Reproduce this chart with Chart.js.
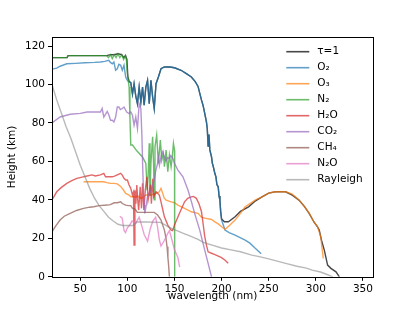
<!DOCTYPE html>
<html>
<head>
<meta charset="utf-8">
<script src="https://cdn.jsdelivr.net/npm/chart.js@4.4.0/dist/chart.umd.min.js"></script>
<style>
  body { margin: 0; background: #fff; }
  canvas { display: block; }
</style>
</head>
<body>
<canvas id="chart" width="415" height="311"></canvas>
<script>
// tick labels
const xTicks = [50, 100, 150, 200, 250, 300, 350];
const yTicks = [0, 20, 40, 60, 80, 100, 120];

// series: [wavelength nm, height km]
const tau1 = [[20,114],[36,114],[37,115],[78,115],[82,115.5],[86,115.5],[90,116],[94,115.5],[96,114],[98,115],[99.5,113],[100.5,104],[102,101.5],[103.6,101],[105.4,95],[107.1,100.4],[108.9,94],[110.7,90],[112.5,98.7],[114.3,90.9],[116.1,98.7],[117.8,89.2],[119.6,98.7],[121.4,102.2],[123.2,90],[125,102.2],[126.8,93.5],[128.5,87.5],[130.4,100.4],[133,104],[135.7,108.2],[139.3,109.1],[145,109.1],[150,108.7],[157,107.4],[163,105.5],[167.9,103.9],[172,101.5],[175,99],[178.6,92],[180.4,89],[182.1,85],[183.9,80.6],[184.8,77],[185.7,68],[186.6,74],[187.5,66],[189.3,62.4],[190.2,59],[191.1,57.5],[192.8,53.8],[194,52],[195,48],[196.4,46.8],[197.3,42],[198.2,39.9],[199,34],[200,30],[203,28.6],[207.2,28.6],[214.3,31.2],[220,34],[228.6,36.4],[236,39.5],[242.9,41.6],[250,43.5],[257.1,44.2],[267.9,44.2],[275,42.5],[282.1,39.9],[288,36.5],[292.9,33],[298,28.5],[301.8,26],[303.6,24.3],[306,19],[309,13.9],[312.5,6.1],[316,4.4],[321.4,2.6],[325,0]];
const o2 = [[20,108],[25,108.5],[28.6,109.5],[35.7,110.8],[45,111],[55,111.3],[65,111.5],[71.4,111.7],[76,112],[80.3,112.6],[82,111.5],[84,110.8],[85.7,111.7],[87.5,107.4],[89.3,108.2],[91,110.5],[92.9,110],[94.6,107.4],[96.4,110],[98.2,103.9],[100,102.2],[101.7,101.3],[103.6,101],[105.4,95],[107.1,100.4],[108.9,94],[110.7,90],[112.5,98.7],[114.3,90.9],[116.1,98.7],[117.8,89.2],[119.6,98.7],[121.4,102.2],[123.2,90],[125,102.2],[126.8,93.5],[128.5,87.5],[130.4,100.4],[133,104],[135.7,108.2],[139.3,109.1],[145,109.1],[150,108.7],[157,107.4],[163,105.5],[167.9,103.9],[172,101.5],[175,99],[178.6,92],[180.4,89],[182.1,85],[183.9,80.6],[184.8,77],[185.7,68],[186.6,74],[187.5,66],[189.3,62.4],[190.2,59],[191.1,57.5],[192.8,53.8],[194,52],[195,48],[196.4,46.8],[197.3,42],[198.2,39.9],[199,34],[200,29.5],[203.6,24.3],[208,23],[214.3,21.7],[225,19.1],[230,17.5],[235.7,14.8],[242,12]];
const o3 = [[53.5,49.4],[60,49.4],[70,49.4],[75,49.4],[78,49],[82,48.6],[86,48.6],[89.3,48.3],[92.9,47],[96,45],[98.2,43.4],[101.8,42.5],[103.6,41.6],[108.9,41.6],[111,42],[114.3,40.8],[117,41.5],[119.6,42.5],[125,42.5],[130.4,43.4],[133.9,44.2],[135.7,46],[137.5,43.4],[139,41],[141.1,39.9],[146.4,39],[150,38.5],[153.6,37.3],[160.7,35.6],[167.9,33.8],[175,33],[178.6,31],[182.1,30.5],[189.3,29.8],[192.9,28.6],[196.4,27.5],[200,26],[203.6,24.7],[208,26.5],[214.3,29.5],[220,33],[225,36.4],[236,40],[243,41.6],[250,43.5],[257,44.2],[268,44.2],[275,43],[282,40],[288,36.5],[293,33],[298,28.5],[301.8,26],[305.3,20.8],[306.4,15.6],[307.9,9.6]];
const n2 = [[20,114],[36,114],[37,115],[78,115],[80,114],[82,115.5],[84,113.5],[86,115.5],[88,114],[90,116],[92,114],[94,115.5],[96,113],[98,115],[99,112.5],[100,105.6],[101.8,98.7],[102.7,83],[103.6,68.5],[105.4,68.5],[110,65.5],[116,62.3],[117.8,60.7],[119.6,59],[121,45],[122,52],[123.2,69.4],[124,42],[125,59],[126.8,72.8],[127.9,57.2],[128.5,40],[129.3,67.6],[131.1,73.7],[132.9,59],[135,71.1],[136.5,60.7],[138.2,64.2],[139.3,57.2],[141.1,65.9],[142.9,54.6],[144.6,63.3],[146.4,57.2],[147.5,61.6],[148.9,69.4],[150,65.9],[150.2,0]];
const h2o = [[20,40],[25,44.2],[30,46.5],[35.7,48.6],[41,50],[46.4,51.2],[52,51.8],[57.2,52.4],[62.5,53],[66,52.4],[71.4,53],[75,53.8],[76.8,52],[80,52],[84,52],[87,52.5],[89.3,53],[92.9,53.8],[94.6,52.9],[96.4,51.2],[98.2,50.3],[100,50.3],[101.8,47.7],[103.6,46],[105.4,42.5],[106.5,44],[107.1,16.5],[108,45],[109,38],[110,47.7],[111,40],[112,34.7],[113.6,46.8],[115,35.6],[116.1,48.6],[117.5,34.7],[119,45],[120.7,52],[122,40],[123.2,43.4],[124.5,48],[125.5,38],[126.8,51],[128,41.6],[130.4,44.2],[133.9,42.5],[135.7,39],[137.5,35],[139.3,31.2],[142.9,26.9],[146.4,24.3],[148,24],[150,26.9],[155.3,33],[160.7,39],[164,40.8],[167.9,41.6],[170,41.8],[173.2,40.8],[176,38],[178.6,34],[180,29],[182.1,21],[183.9,16.5],[185.7,13],[188,12.5],[192.9,11.5],[200,10],[204,8.5],[207,7]];
const co2 = [[20,80],[28.6,83.1],[39.3,84.5],[50,85],[57.2,85.7],[65,85.7],[71.4,85.7],[73.2,87.5],[75,83.1],[78.6,86],[80.5,84],[82.1,81.4],[84,81.4],[85.7,80.5],[87.5,83.1],[89.3,88.3],[91,88.3],[92.5,87],[94.6,87.5],[96.4,88.3],[99.3,85.7],[101.8,84.9],[103.6,85.7],[105.4,84],[107.1,78.9],[108.9,83.1],[110.7,77.1],[112.5,90],[114.3,87.5],[115.5,72],[116.1,60],[117,45],[117.8,37.3],[118.5,33],[119.6,36],[121.4,41.6],[125,45],[127,48],[128.5,50.3],[130,55],[132.1,59],[133,62],[134,58],[135.7,62.4],[137,65],[139.3,62.4],[141,60],[142.5,62],[144.6,61.6],[146,63],[148.2,61.6],[150,59],[153.6,55.5],[159,52],[164.3,45.1],[168,39],[171.4,33],[176.8,24.3],[182.1,13.9],[185.7,7],[189.3,0]];
const ch4 = [[20,23.4],[24,26.5],[28.6,29.5],[33,31.5],[39.3,33],[46,34.5],[53.5,35.6],[60,36.2],[64.3,36.4],[70,37],[78.6,37.3],[82,37.5],[86,38.5],[89.3,38.5],[92.9,39],[94.6,38.1],[98.2,37.3],[101,37],[103.6,37],[105.4,35.6],[107,35.5],[108.9,34.7],[110.5,33.5],[112.5,33.5],[120,33.5],[128.5,33.5],[132.1,32.1],[135.7,29.5],[139.3,24.3],[141,20],[142.1,15.6],[143,10],[143.6,6.9],[144.6,0]];
const n2o = [[92,31.5],[94.5,30.5],[96.5,24],[98,23],[100,25.5],[102,26.5],[105,29],[109,28],[112.5,31],[115,27],[117.8,22],[121.4,18.5],[124.3,25],[127,29],[130,31],[132,26],[134,19],[135.7,16],[139.3,19],[142.9,22.6],[144.6,24],[146.4,20.8],[150,14],[153.6,10],[155.5,5]];
const rayleigh = [[20,100],[25,92],[30,85],[35,78],[40,72],[45,65],[50,58],[55,52],[60,46],[65,41],[70,37],[75,34],[80,31],[85,29],[90,27.3],[95,26.7],[100,26.7],[106,26.7],[108,27.5],[110,28.5],[120,28.5],[135,28.3],[140,27],[145,25.5],[150,24.5],[155,23.5],[160,22.5],[165,21.5],[170,20.5],[175,19.5],[180,18],[185,17.2],[190,16.5],[200,15],[210,14],[220,13],[232,11.3],[240,10.5],[250,9.3],[260,8],[268,7],[280,5.5],[290,4.5],[296,3.5],[305,2.5],[312,1.2],[318,0]];

const labels = ['τ=1', 'O₂', 'O₃', 'N₂', 'H₂O', 'CO₂', 'CH₄', 'N₂O', 'Rayleigh'];
const series = [tau1, o2, o3, n2, h2o, co2, ch4, n2o, rayleigh];
const colors = ['rgba(0,0,0,0.72)', 'rgba(31,119,180,0.7)', 'rgba(255,127,14,0.7)', 'rgba(44,160,44,0.7)',
                'rgba(214,39,40,0.7)', 'rgba(148,103,189,0.7)', 'rgba(140,86,75,0.7)', 'rgba(227,119,194,0.7)',
                'rgba(127,127,127,0.55)'];

Chart.defaults.font.family = '"DejaVu Sans", sans-serif';
Chart.defaults.font.size = 10.5;
Chart.defaults.color = '#000';

// legend drawn inside the axes, upper right, like matplotlib
const insideLegend = {
    id: 'insideLegend',
    afterDraw(chart) {
        const {ctx, chartArea} = chart;
        ctx.save();
        ctx.font = '10.5px "DejaVu Sans"';
        ctx.textBaseline = 'middle';
        chart.data.datasets.forEach((ds, i) => {
            const y = chartArea.top + 14.7 + i * 16;
            const x0 = chartArea.right - 87;
            ctx.strokeStyle = ds.borderColor;
            ctx.lineWidth = 1.6;
            ctx.beginPath();
            ctx.moveTo(x0, y);
            ctx.lineTo(x0 + 23, y);
            ctx.stroke();
            ctx.fillStyle = '#000';
            ctx.fillText(ds.label, x0 + 31, y);
        });
        ctx.restore();
    }
};

// full box around the plot
const frame = {
    id: 'frame',
    afterDraw(chart) {
        const {ctx, chartArea: a} = chart;
        ctx.save();
        ctx.strokeStyle = '#000';
        ctx.lineWidth = 1;
        ctx.strokeRect(Math.round(a.left) + 0.5, Math.round(a.top) + 0.5,
                       Math.round(a.right - a.left), Math.round(a.bottom - a.top));
        ctx.restore();
    }
};

new Chart(document.getElementById('chart'), {
    type: 'line',
    data: {
        datasets: series.map((s, i) => ({
            label: labels[i],
            data: s.map(([x, y]) => ({x, y})),
            borderColor: colors[i],
            backgroundColor: colors[i],
            borderWidth: 1.4,
            pointRadius: 0,
            tension: 0,
            fill: false,
            order: series.length - i   // later series on top, as in matplotlib
        }))
    },
    options: {
        responsive: false,
        animation: false,
        events: [],
        layout: { padding: { left: 6, top: 37, right: 41.7, bottom: 8 } },
        plugins: { legend: { display: false }, tooltip: { enabled: false } },
        scales: {
            x: {
                type: 'linear',
                min: 20, max: 361,
                afterBuildTicks: axis => { axis.ticks = xTicks.map(v => ({value: v})); },
                afterFit: scale => { scale.height = 26.2; },
                ticks: { padding: 2, maxRotation: 0, autoSkip: false },
                grid: { drawOnChartArea: false, tickLength: 4, tickColor: '#000' },
                border: { display: false },
                title: { display: true, text: 'wavelength (nm)', padding: 0 }
            },
            y: {
                type: 'linear',
                min: 0, max: 124.7,
                afterBuildTicks: axis => { axis.ticks = yTicks.map(v => ({value: v})); },
                afterFit: scale => { scale.width = 46; },
                ticks: { padding: 3, autoSkip: false },
                grid: { drawOnChartArea: false, tickLength: 4, tickColor: '#000' },
                border: { display: false },
                title: { display: true, text: 'Height (km)', padding: 0 }
            }
        }
    },
    plugins: [insideLegend, frame]
});
</script>
</body>
</html>
